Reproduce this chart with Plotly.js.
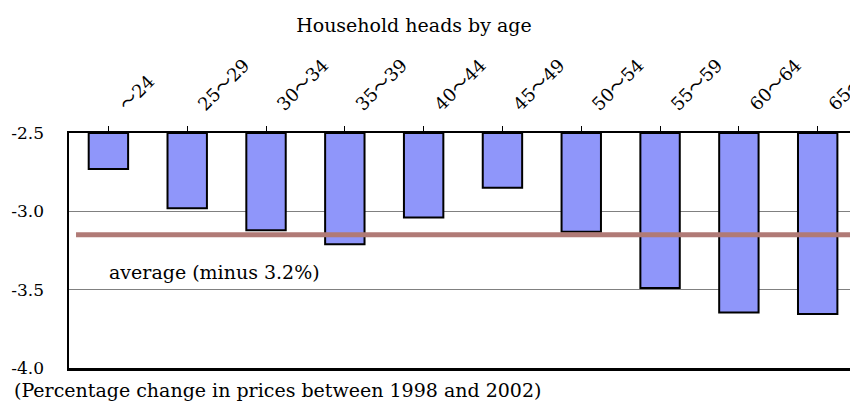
<!DOCTYPE html>
<html>
<head>
<meta charset="utf-8">
<script src="https://cdn.plot.ly/plotly-3.0.1.min.js"></script>
<style>html,body{margin:0;padding:0;background:#fff;overflow:hidden;}#chart{width:850px;height:405px;}</style>
</head>
<body>
<div id="chart"></div>
<script>
const categories = ['～24', '25～29', '30～34', '35～39', '40～44', '45～49', '50～54', '55～59', '60～64', '65～'];
const values = [-2.73, -2.98, -3.12, -3.21, -3.04, -2.85, -3.13, -3.49, -3.645, -3.655];
const baseValue = -2.5;
const averageValue = [-3.15];
const averageLabel = 'average (minus 3.2%)';
const yTickValues = [-4.0, -3.5, -3.0, -2.5];
const yTickLabels = ['-4.0', '-3.5', '-3.0', '-2.5'];
const chartTitle = 'Household heads by age';
const footnote = '(Percentage change in prices between 1998 and 2002)';

const FONT = '"DejaVu Serif", "Liberation Serif", "Noto Sans CJK JP", serif';

const trace = {
  type: 'bar',
  x: categories.map((c, i) => i),
  y: values.map(v => v - baseValue),
  base: baseValue,
  width: 0.5,
  marker: {color: '#8f96fa', line: {color: '#000', width: 2}},
  hoverinfo: 'skip'
};

const layout = {
  width: 850, height: 405,
  margin: {l: 69, r: 0, t: 133, b: 37, pad: 0},
  paper_bgcolor: '#fff', plot_bgcolor: '#fff',
  showlegend: false,
  font: {family: FONT, size: 17, color: '#000'},
  title: {text: chartTitle, x: 0.487, xref: 'container', xanchor: 'center', y: 0.938, yref: 'container', yanchor: 'middle', font: {family: FONT, size: 19, color: '#000'}},
  xaxis: {
    side: 'top',
    range: [-0.5, 9.41],
    tickmode: 'array',
    tickvals: categories.map((c, i) => i),
    ticktext: categories,
    tickangle: -45,
    tickson: 'boundaries',
    ticks: 'outside', ticklen: 5, tickwidth: 1, tickcolor: '#000',
    showline: true, linecolor: '#000', linewidth: 2.5, mirror: true,
    showgrid: false, zeroline: false,
    tickfont: {family: FONT, size: 18, color: '#000'},
    ticklabeloverflow: 'allow',
    ticklabelshift: 12,
    ticklabelstandoff: 4,
    fixedrange: true
  },
  yaxis: {
    range: [-4.0, -2.5],
    tickmode: 'array',
    tickvals: yTickValues,
    ticktext: yTickLabels,
    ticks: '',
    showline: true, linecolor: '#000', linewidth: 2.5,
    showgrid: true, gridcolor: '#808080', gridwidth: 1,
    zeroline: false,
    tickfont: {family: FONT, size: 17, color: '#000'},
    ticklabelstandoff: 19,
    fixedrange: true
  },
  shapes: [{
    type: 'line', xref: 'paper', yref: 'y',
    x0: 0.009, x1: 1, y0: averageValue[0], y1: averageValue[0],
    line: {color: '#b07a76', width: 5}, layer: 'above'
  }],
  annotations: [
    {text: averageLabel, xref: 'paper', yref: 'y', x: 0.0487, y: -3.385, xanchor: 'left', yanchor: 'middle', showarrow: false, font: {family: FONT, size: 19, color: '#000'}},
    {text: footnote, xref: 'paper', yref: 'paper', x: -0.073, y: -0.095, xanchor: 'left', yanchor: 'middle', showarrow: false, font: {family: FONT, size: 19, color: '#000'}}
  ]
};

Plotly.newPlot('chart', [trace], layout, {displayModeBar: false, staticPlot: true});
</script>
</body>
</html>
